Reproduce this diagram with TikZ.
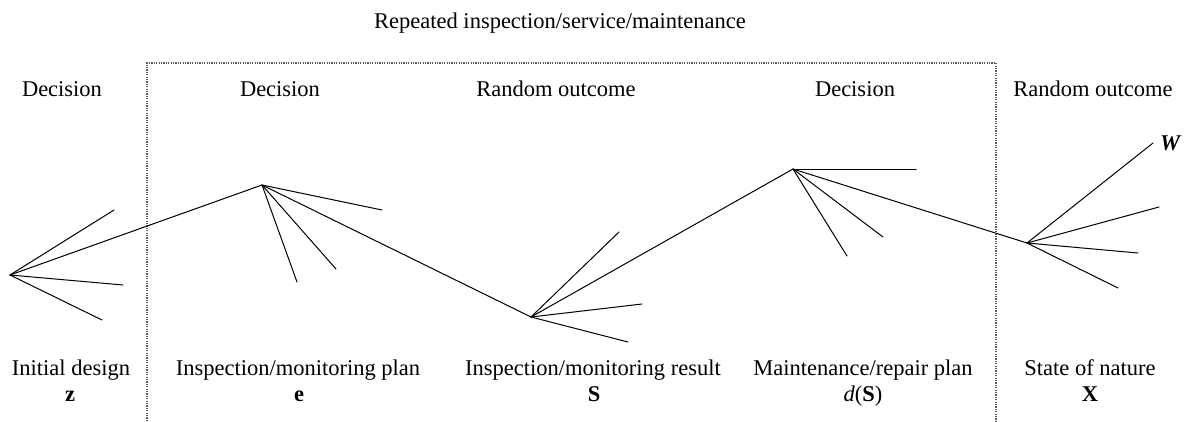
\documentclass[tikz,border=0pt]{standalone}
\usepackage{fontspec}
\setmainfont{Liberation Serif}
\begin{document}
\begin{tikzpicture}[x=1pt,y=-1pt,
  lbl/.style={inner sep=0pt,anchor=base,font=\fontsize{22.5}{27}\selectfont},
  branch/.style={line width=1pt,line cap=round,line join=round},
  boxline/.style={dash pattern=on 1.2pt off 1.2pt,line width=1.1pt,black!65}]
\useasboundingbox (0,0) rectangle (1186,421);
% repeated-stage frame
\coordinate (bl) at (147,421);
\coordinate (tl) at (147,63);
\coordinate (tr) at (996,63);
\coordinate (br) at (996,421);
\draw[boxline] (bl) -- (tl) -- (tr) -- (br);
% tree points
\coordinate (z) at (10,275);
\coordinate (e) at (262,185);
\coordinate (s) at (531,317);
\coordinate (d) at (793,169);
\coordinate (x) at (1027,243);
\draw[branch] (z) -- (e) -- (s) -- (d) -- (x);
% free ends
\coordinate (z1) at (114,210);
\coordinate (z2) at (123,285);
\coordinate (z3) at (102,320);
\coordinate (e1) at (382,210);
\coordinate (e2) at (336,269);
\coordinate (e3) at (297,282);
\coordinate (s1) at (619,232);
\coordinate (s2) at (642,304);
\coordinate (s3) at (628,342);
\coordinate (d1) at (916,169);
\coordinate (d2) at (883,237);
\coordinate (d3) at (847,256);
\coordinate (x1) at (1153,143);
\coordinate (x2) at (1159,207);
\coordinate (x3) at (1138,253);
\coordinate (x4) at (1118,288);
\foreach \a/\b in {z/z1,z/z2,z/z3,e/e1,e/e2,e/e3,s/s1,s/s2,s/s3,d/d1,d/d2,d/d3,x/x1,x/x2,x/x3,x/x4}
  \draw[branch] (\a) -- (\b);
% labels
\node[lbl] (title) at (560,28) {Repeated inspection/service/maintenance};
\node[lbl] (t1) at (62,96) {Decision};
\node[lbl] (t2) at (280,96) {Decision};
\node[lbl] (t3) at (556,96) {Random outcome};
\node[lbl] (t4) at (855,96) {Decision};
\node[lbl] (t5) at (1093,96) {Random outcome};
\node[lbl] (b1) at (71,375) {Initial design};
\node[lbl] (b2) at (298,375) {Inspection/monitoring plan};
\node[lbl] (b3) at (593,375) {Inspection/monitoring result};
\node[lbl] (b4) at (863,375) {Maintenance/repair plan};
\node[lbl] (b5) at (1090,375) {State of nature};
\node[lbl] (v1) at (70,401) {\textbf{z}};
\node[lbl] (v2) at (299,401) {\textbf{e}};
\node[lbl] (v3) at (594,401) {\textbf{S}};
\node[lbl] (v4) at (863,401) {\textit{d}(\textbf{S})};
\node[lbl] (v5) at (1090,401) {\textbf{X}};
\node[lbl,anchor=base west] (w) at (1160,150) {\textbf{\textit{W}}};
\end{tikzpicture}
\end{document}
